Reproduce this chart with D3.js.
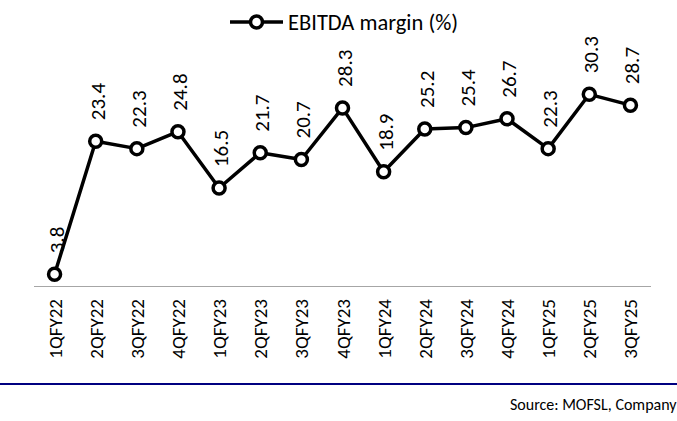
<!DOCTYPE html>
<html>
<head>
<meta charset="utf-8">
<script src="https://cdn.jsdelivr.net/npm/d3@7"></script>
<style>
  body { margin: 0; background: #fff; }
  text { font-family: Calibri, Carlito, Lato, sans-serif; fill: #000; }
</style>
</head>
<body>
<div id="chart-area"></div>
<script>
// Datos
var quarters = ["1QFY22", "2QFY22", "3QFY22", "4QFY22", "1QFY23", "2QFY23", "3QFY23", "4QFY23",
                "1QFY24", "2QFY24", "3QFY24", "4QFY24", "1QFY25", "2QFY25", "3QFY25"];
var margin = [3.8, 23.4, 22.3, 24.8, 16.5, 21.7, 20.7, 28.3, 18.9, 25.2, 25.4, 26.7, 22.3, 30.3, 28.7];
var seriesName = "EBITDA margin (%)";
var sourceText = "Source: MOFSL, Company";

var W = 677, H = 421;

var svg = d3.select("#chart-area").append("svg")
    .attr("width", W)
    .attr("height", H);

// Escalas
var x = d3.scalePoint()
    .domain(quarters)
    .range([34, 651])
    .padding(0.5);

var y = d3.scaleLinear()
    .domain([2, 35])
    .range([286.5, 62.4]);

// Eje X (línea gris)
svg.append("line")
    .attr("x1", 34)
    .attr("x2", 651)
    .attr("y1", y(2))
    .attr("y2", y(2))
    .attr("stroke", "#a6a6a6")
    .attr("stroke-width", 1.2);

// Etiquetas del eje
svg.selectAll(".cat")
    .data(quarters)
    .enter().append("text")
    .attr("class", "cat")
    .attr("transform", function(d) { return "translate(" + (x(d) + 7) + "," + 299 + ") rotate(-90)"; })
    .attr("text-anchor", "end")
    .style("font-size", "19px")
    .text(function(d) { return d; });

// Línea
var line = d3.line()
    .x(function(d, i) { return x(quarters[i]); })
    .y(function(d) { return y(d); });

svg.append("path")
    .datum(margin)
    .attr("d", line)
    .attr("fill", "none")
    .attr("stroke", "#000")
    .attr("stroke-width", 3.5)
    .attr("stroke-linejoin", "round");

// Marcadores
svg.selectAll(".dot")
    .data(margin)
    .enter().append("circle")
    .attr("class", "dot")
    .attr("cx", function(d, i) { return x(quarters[i]); })
    .attr("cy", function(d) { return y(d); })
    .attr("r", 6)
    .attr("fill", "#fff")
    .attr("stroke", "#000")
    .attr("stroke-width", 3.5);

// Etiquetas de datos
svg.selectAll(".lbl")
    .data(margin)
    .enter().append("text")
    .attr("class", "lbl")
    .attr("transform", function(d, i) { return "translate(" + (x(quarters[i]) + 9) + "," + (y(d) - 21) + ") rotate(-90)"; })
    .attr("text-anchor", "start")
    .style("font-size", "21px")
    .text(function(d) { return d.toFixed(1); });

// Leyenda
var lg = svg.append("g").attr("transform", "translate(230,22)");
lg.append("line")
    .attr("x1", 0).attr("x2", 53)
    .attr("stroke", "#000").attr("stroke-width", 3.5);
lg.append("circle")
    .attr("cx", 26.5).attr("r", 6)
    .attr("fill", "#fff").attr("stroke", "#000").attr("stroke-width", 3.5);
lg.append("text")
    .attr("x", 58)
    .attr("dy", "0.35em")
    .style("font-size", "22.5px")
    .text(seriesName);

// Línea azul inferior y fuente
svg.append("line")
    .attr("x1", 0).attr("x2", W)
    .attr("y1", 384).attr("y2", 384)
    .attr("stroke", "#000080")
    .attr("stroke-width", 2);

svg.append("text")
    .attr("x", 510)
    .attr("y", 404)
    .attr("dy", "0.35em")
    .style("font-size", "16px")
    .text(sourceText);
</script>
</body>
</html>
